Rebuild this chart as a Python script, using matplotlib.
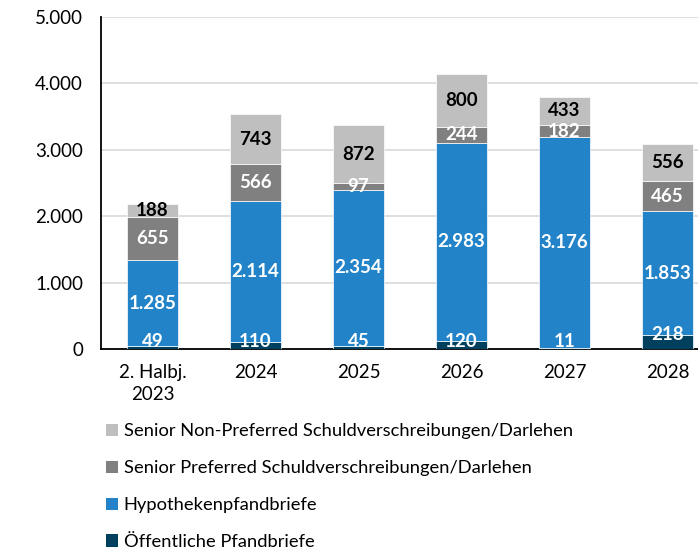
import numpy as np
import matplotlib.pyplot as plt
from matplotlib.patches import Patch

plt.rcParams['font.family'] = ['Lato', 'DejaVu Sans']

categories = ['2. Halbj.\n2023', '2024', '2025', '2026', '2027', '2028']
oeffentliche = [49, 110, 45, 120, 11, 218]
hypotheken = [1285, 2114, 2354, 2983, 3176, 1853]
senior_pref = [655, 566, 97, 244, 182, 465]
senior_nonpref = [188, 743, 872, 800, 433, 556]

series = [
    ('Öffentliche Pfandbriefe', oeffentliche, '#00405F', 'white'),
    ('Hypothekenpfandbriefe', hypotheken, '#2383C9', 'white'),
    ('Senior Preferred Schuldverschreibungen/Darlehen', senior_pref, '#808080', 'white'),
    ('Senior Non-Preferred Schuldverschreibungen/Darlehen', senior_nonpref, '#BFBFBF', 'black'),
]


def fmt(v):
    return f'{v:,.0f}'.replace(',', '.')


fig = plt.figure(figsize=(6.98, 5.51), dpi=100)
ax = fig.add_axes([101 / 698, (551 - 349) / 551, 618 / 698, 332 / 551])

x = np.arange(len(categories))
bottom = np.zeros(len(categories))
for i, (name, vals, color, tcolor) in enumerate(series):
    vals = np.array(vals, dtype=float)
    ax.bar(x, vals, 0.5, bottom=bottom, color=color, edgecolor='white',
           linewidth=0.5, zorder=3)
    for xi, b, v in zip(x, bottom, vals):
        # small bottom segments: label sits just above the axis
        if i == 0:
            y = max(b + v, 120)
        else:
            y = b + v / 2
        ax.text(xi, y, fmt(v), ha='center', va='center', color=tcolor,
                fontsize=13.5, fontweight='bold', zorder=4)
    bottom += vals

ax.set_xlim(-0.5, 5.5)
ax.set_ylim(0, 5000)
ax.set_yticks(np.arange(0, 5001, 1000))
ax.set_yticklabels([fmt(v) for v in np.arange(0, 5001, 1000)])
ax.set_xticks(x)
ax.set_xticklabels(categories, linespacing=1.35)
ax.tick_params(axis='both', length=0, labelsize=13.5)
ax.tick_params(axis='x', pad=11)
ax.tick_params(axis='y', pad=13)
ax.yaxis.grid(True, color='#D9D9D9', linewidth=1.2, zorder=0)
ax.set_axisbelow(True)
for s in ['top', 'right']:
    ax.spines[s].set_visible(False)
ax.spines['left'].set_linewidth(1.3)
ax.spines['bottom'].set_linewidth(1.3)

handles = [Patch(facecolor=c, label=n) for n, _, c, _ in reversed(series)]
fig.legend(handles=handles, loc='upper left', bbox_to_anchor=(99 / 698, 1 - 416 / 551),
           frameon=False, fontsize=13.2, handlelength=0.65, handleheight=0.65,
           handletextpad=0.3, labelspacing=1.14, borderaxespad=0)

fig.savefig('out.png', dpi=100)
